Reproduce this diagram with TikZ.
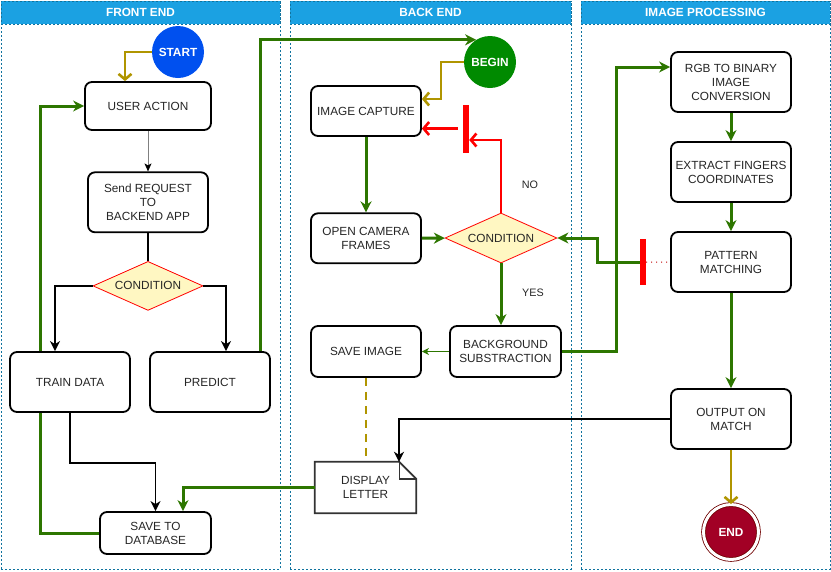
\documentclass[tikz,border=0pt]{standalone}
\usepackage{fontspec}
\setmainfont{Liberation Sans}
\usetikzlibrary{arrows.meta, shapes.geometric, positioning}

\definecolor{headblue}{HTML}{1BA1E2}
\definecolor{lanedash}{HTML}{10739E}
\definecolor{flowgreen}{HTML}{2D7600}
\definecolor{flowolive}{HTML}{B09500}
\definecolor{condfill}{HTML}{FFF7C2}
\definecolor{startblue}{HTML}{0050EF}
\definecolor{begingreen}{HTML}{008A00}
\definecolor{endred}{HTML}{A20025}
\definecolor{endring}{HTML}{6F0000}
\definecolor{boxtext}{HTML}{262626}

\begin{document}
\begin{tikzpicture}[
  x=1pt, y=-1pt,
  >=Stealth,
  font=\fontsize{11.8}{14}\selectfont,
  lane/.style={
    rectangle, draw=lanedash, dash pattern=on 2pt off 2pt,
    line width=0.6pt, inner sep=0pt
  },
  lanehead/.style={
    lane, fill=headblue, text=white,
    font=\fontsize{11.8}{14}\selectfont\bfseries,
    minimum height=23pt
  },
  box/.style={
    rectangle, rounded corners=7pt,
    draw=black, line width=1.8pt,
    fill=white, text=boxtext,
    inner sep=2pt, align=center,
    minimum width=120pt, minimum height=60pt
  },
  cond/.style={
    diamond, aspect=2.24, draw=red, line width=0.8pt,
    fill=condfill, text=boxtext, inner sep=0pt,
    minimum width=110pt, minimum height=49pt
  },
  term/.style={
    circle, inner sep=0pt, minimum size=52pt,
    text=white, font=\fontsize{11.8}{14}\selectfont\bfseries
  },
  bar/.style={rectangle, fill=red, inner sep=0pt, minimum width=6pt, minimum height=48pt},
  lbl/.style={text=boxtext, font=\fontsize{10.8}{12}\selectfont},
  arrow/.style={-{Stealth[length=10pt, width=10pt, inset=3pt]}, line width=1.8pt},
  line/.style={line width=1.8pt},
  thinarrow/.style={-{Stealth[length=8pt, width=7pt, inset=2pt, black]}, draw=gray, line width=0.9pt},
  garrow/.style={-{Stealth[length=11pt, width=11pt, inset=3.5pt]}, draw=flowgreen, line width=3pt},
  gline/.style={draw=flowgreen, line width=3pt},
  gthin/.style={-{Stealth[length=7pt, width=7pt, inset=2pt]}, draw=flowgreen, line width=1.1pt},
  oarrow/.style={-{Straight Barb[length=5.5pt, width=13pt]}, draw=flowolive, line width=2.6pt},
  rarrow/.style={-{Straight Barb[length=5.5pt, width=13pt]}, draw=red, line width=2.6pt}
]
\useasboundingbox (0,0) rectangle (831,571);

% Lanes
\node[lane, minimum width=279pt, minimum height=568pt] (felane) at (140.5,285) {};
\node[lanehead, minimum width=279pt] (fehead) at (140.5,12.5) {FRONT END};
\node[lane, minimum width=281pt, minimum height=568pt] (belane) at (430.5,285) {};
\node[lanehead, minimum width=281pt] (behead) at (430.5,12.5) {BACK END};
\node[lane, minimum width=249pt, minimum height=568pt] (iplane) at (705.5,285) {};
\node[lanehead, minimum width=249pt] (iphead) at (705.5,12.5) {IMAGE PROCESSING};

% Front end
\node[term, fill=startblue] (start) at (178,52) {START};
\node[box, minimum width=126pt, minimum height=48pt] (useraction) at (148,106) {USER ACTION};
\node[box, below=40.5pt of useraction] (sendreq) {Send REQUEST\\TO\\BACKEND APP};
\node[cond, below=27.8pt of sendreq] (cond1) {CONDITION};
\node[box] (train) at (70,382) {TRAIN DATA};
\node[box] (predict) at (210,382) {PREDICT};
\node[box, minimum width=111pt, minimum height=42pt] (savedb) at (155.5,533) {SAVE TO\\DATABASE};

% Back end
\node[term, fill=begingreen] (begin) at (490,62) {BEGIN};
\node[box, minimum width=110pt, minimum height=50pt] (capture) at (366,111) {IMAGE CAPTURE};
\node[box, minimum width=110pt, minimum height=50pt, below=75.5pt of capture] (camera) {OPEN CAMERA\\FRAMES};
\node[cond, minimum width=112pt, minimum height=50pt] (cond2) at (501,238) {CONDITION};
\node[box, minimum width=111pt, minimum height=51pt] (bgsub) at (505.5,351.5) {BACKGROUND\\SUBSTRACTION};
\node[box, minimum width=110pt, minimum height=51pt] (saveimg) at (366,351.5) {SAVE IMAGE};
\node[text=boxtext, align=center, inner sep=0pt, minimum width=101pt, minimum height=51pt] (display) at (365.5,487.5) {DISPLAY\\LETTER};
\draw[draw=black!80, line width=1.8pt, fill=white]
  (display.north west) -- ([xshift=-17pt]display.north east) -- ([yshift=-17pt]display.north east)
  -- (display.south east) -- (display.south west) -- cycle;
\draw[draw=black!80, line width=1.4pt]
  ([xshift=-17pt]display.north east) |- ([yshift=-17pt]display.north east);
\node[text=boxtext, align=center] at (display) {DISPLAY\\LETTER};
\node[bar] (nobar) at (466,128.5) {};
\node[lbl] (nolbl) at (530,185) {NO};
\node[lbl] (yeslbl) at (533,293) {YES};

% Image processing
\node[box] (rgb) at (731,82) {RGB TO BINARY\\IMAGE\\CONVERSION};
\node[box, below=28.2pt of rgb] (extract) {EXTRACT FINGERS\\COORDINATES};
\node[box, below=28.2pt of extract] (pattern) {PATTERN\\MATCHING};
\node[box, below=95.2pt of pattern] (output) {OUTPUT ON\\MATCH};
\node[term, fill=endred, draw=endring, line width=0.8pt, double=white, double distance=3pt,
  minimum size=55pt] (end) at (731,532) {END};
\node[bar, minimum height=46pt] (pmbar) at (643,262) {};

% Arrows (front end)
\draw[oarrow] (start.west) -| ([xshift=-23pt]useraction.north);
\draw[thinarrow] (useraction) -- (sendreq);
\draw[line] (sendreq) -- (cond1);
\draw[arrow] (cond1.west) -| ([xshift=-15pt]train.north);
\draw[arrow] (cond1.east) -| ([xshift=16pt]predict.north);
\draw[garrow] ([xshift=-30pt]train.north) |- (useraction.west);
\draw[gline] ([xshift=-30pt]train.south) |- (savedb.west);
\draw[arrow] (train.south) -- ++(0,50) -| (savedb.north);
\draw[garrow] (display.west) -| ([xshift=27.5pt]savedb.north);
\draw[garrow] ([xshift=50pt]predict.north) |- (begin.122);

% Arrows (back end)
\draw[oarrow] (begin.west) -- ++(-23,0) |- ([yshift=12pt]capture.east);
\draw[rarrow] (cond2.north) |- ([yshift=-11.5pt]nobar.east);
\draw[rarrow] ([xshift=-5pt]nobar.west) -- (nobar.west -| capture.east);
\draw[garrow] (capture) -- (camera);
\draw[garrow] (camera) -- (cond2);
\draw[garrow] (cond2.south) -- (cond2.south |- bgsub.north);
\draw[gthin] (bgsub) -- (saveimg);
\draw[draw=flowolive, line width=2.8pt, dash pattern=on 8pt off 6pt]
  (saveimg.south) -- (saveimg.south |- display.north);

% Arrows (image processing)
\draw[garrow] (bgsub.east) -- ++(55,0) |- ([yshift=15pt]rgb.west);
\draw[garrow] (pmbar.west) -- ++(-42,0) |- (cond2.east);
\draw[draw=red!75!black, line width=1pt, dash pattern=on 1pt off 4pt] (pmbar.east) -- (pattern.west);
\draw[garrow] (rgb) -- (extract);
\draw[garrow] (extract) -- (pattern);
\draw[garrow] (pattern) -- (output);
\draw[oarrow] (output) -- (end);
\draw[arrow, line width=2.8pt] (output.west) -| ([xshift=33.5pt]display.north);

\end{tikzpicture}
\end{document}
